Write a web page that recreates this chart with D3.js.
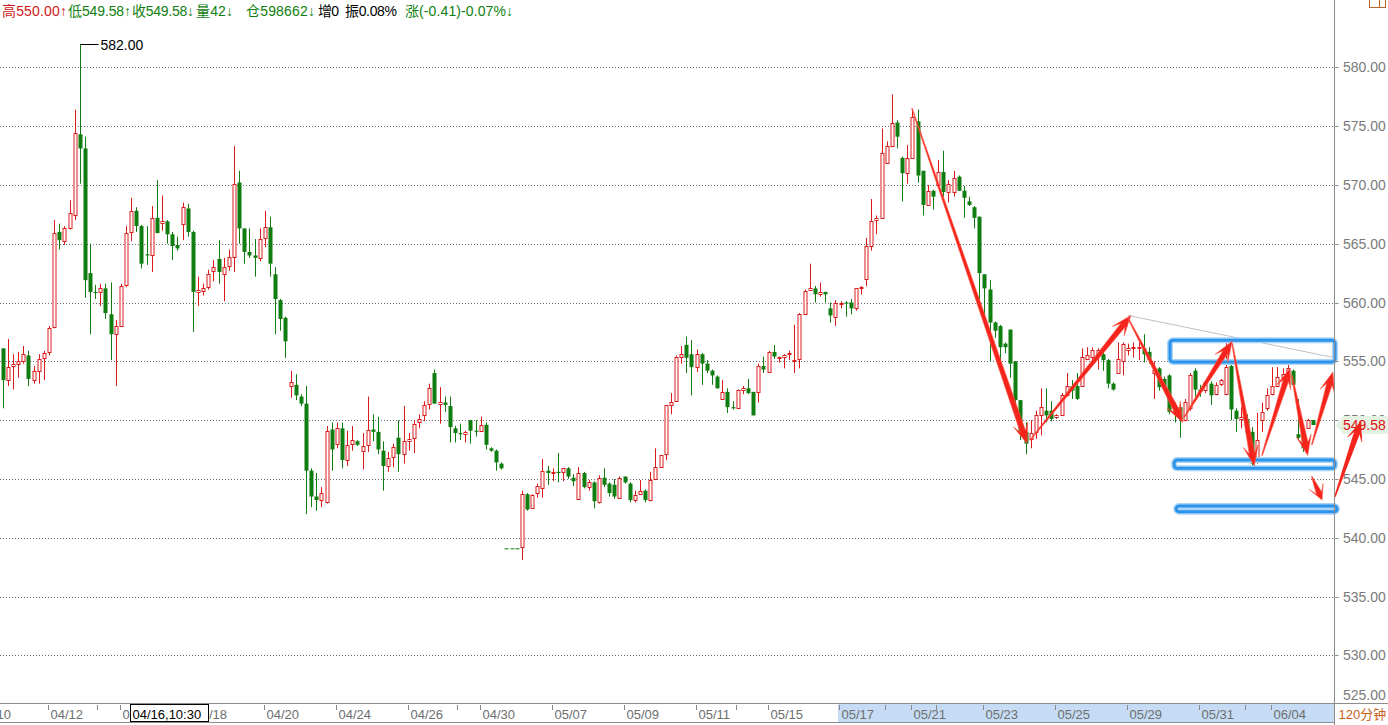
<!DOCTYPE html>
<html><head><meta charset="utf-8">
<script src="https://cdn.jsdelivr.net/npm/d3@7"></script>
<style>body{margin:0;background:#fff;overflow:hidden}svg{display:block}</style>
</head><body><svg id="c" width="1388" height="725"></svg>
<script>
// ---- data (120-minute candles) ----
const opens = [556.1,553.4,554.6,554.8,555.0,555.5,553.4,554.2,555.3,555.8,557.9,566.0,565.2,566.3,567.4,574.3,573.1,562.5,560.9,560.9,561.2,559.0,557.3,558.0,561.5,566.0,567.8,566.5,564.1,564.0,567.2,566.8,566.9,565.8,564.9,566.7,568.0,566.0,560.9,561.0,561.3,562.7,563.7,562.4,563.1,563.9,570.2,566.3,564.3,564.0,563.8,565.5,566.4,562.4,560.2,558.7,552.9,553.0,552.0,551.4,545.7,543.5,543.2,543.0,549.2,548.0,549.3,546.6,548.0,548.2,547.4,547.9,549.2,549.0,547.4,546.1,546.9,548.5,547.1,548.2,548.5,549.8,550.4,551.4,554.0,551.4,551.5,551.2,549.3,548.9,548.8,550.0,549.1,549.1,549.6,547.6,547.4,546.3,539.1,539.1,539.1,539.2,543.7,542.5,543.8,544.2,545.7,545.5,545.6,545.6,545.9,545.1,543.3,545.5,544.3,544.7,543.0,545.1,544.6,544.5,543.4,545.2,544.6,543.2,543.7,544.0,543.2,545.0,546.0,547.1,551.3,551.6,555.4,556.4,555.6,554.5,555.6,554.8,554.2,553.7,551.8,552.4,551.1,551.0,552.6,552.7,552.4,552.4,554.6,554.1,555.8,555.3,555.4,555.6,555.0,555.2,559.0,561.1,561.2,560.7,560.9,559.5,558.8,559.9,560.0,560.0,559.5,561.2,562.0,564.8,567.0,567.2,571.9,573.3,575.3,572.3,571.0,572.3,575.4,571.2,568.3,569.5,570.0,571.1,569.4,569.4,570.7,569.5,568.6,568.1,567.3,562.4,561.1,558.3,558.0,556.5,557.7,555.0,551.7,549.0,548.4,549.0,550.4,550.8,550.8,550.3,550.4,552.1,552.9,552.9,552.9,555.2,555.4,555.5,555.6,555.1,553.1,554.0,555.0,556.0,556.1,556.1,556.1,555.8,554.0,554.4,553.5,553.8,551.1,551.1,550.0,551.0,554.2,552.6,552.6,553.1,552.2,553.1,552.2,554.6,550.8,550.1,550.1,549.0,546.4,550.0,551.0,552.2,552.9,553.7,553.7,554.2,548.8,548.8,549.3,550.0];
const highs = [556.1,556.9,555.6,555.8,556.3,555.9,554.6,555.6,555.9,558.0,567.0,566.7,566.5,568.7,576.4,582.0,574.1,565.0,561.5,561.6,561.6,561.7,558.5,561.6,566.5,568.9,568.1,566.6,566.5,568.2,570.4,569.1,567.0,566.0,565.6,568.5,568.4,566.1,562.2,561.6,562.8,563.6,565.3,563.8,564.5,573.3,571.2,566.3,566.3,565.4,566.3,567.8,567.3,563.0,560.3,558.8,554.2,553.9,552.2,552.9,545.9,545.5,544.3,549.5,549.8,549.8,549.8,549.1,549.5,548.3,548.9,552.0,550.5,550.3,548.2,547.3,548.0,550.0,551.2,548.9,550.0,550.5,551.6,553.1,554.3,552.8,552.0,552.0,549.5,549.7,549.1,550.0,550.0,550.3,549.8,547.7,547.5,546.4,539.1,539.1,539.1,544.0,543.8,543.7,544.6,546.7,546.1,545.9,547.2,545.9,546.0,545.4,546.0,545.6,544.9,544.8,545.3,545.9,544.7,545.0,545.2,545.2,544.7,544.0,544.9,544.1,545.6,547.6,547.0,551.3,552.3,555.5,556.3,557.1,556.8,556.0,555.7,555.1,554.3,553.8,553.4,552.7,551.6,552.6,552.9,553.5,552.4,554.8,555.4,555.9,556.4,555.4,555.6,555.9,558.1,559.1,561.1,563.3,561.4,561.7,560.9,560.0,560.2,560.1,560.1,560.3,561.2,561.4,565.5,568.8,567.4,574.8,573.7,577.7,575.5,572.4,573.4,576.4,576.4,571.2,570.0,569.6,572.1,572.9,570.4,571.2,570.8,569.9,569.0,568.2,567.3,562.4,561.9,558.4,558.1,556.6,557.7,555.0,551.7,549.8,550.0,550.8,552.7,552.7,551.6,550.5,552.3,554.0,553.4,554.0,556.1,556.2,556.2,556.1,555.8,555.2,553.2,556.6,556.6,556.5,556.6,556.6,557.3,556.2,555.0,554.5,553.7,553.9,551.5,551.4,551.8,554.0,554.4,553.0,553.4,553.3,553.2,553.5,556.9,554.7,551.0,551.1,550.5,549.4,550.6,551.5,552.7,554.5,554.5,554.4,554.7,554.3,551.8,549.0,550.1,550.0];
const lows = [551.0,552.9,552.6,553.6,554.8,552.9,553.1,553.1,553.4,555.5,557.8,564.5,564.9,566.2,567.0,570.1,560.4,557.3,560.3,559.7,558.6,555.1,552.9,558.0,561.3,565.2,566.0,562.9,563.2,562.6,565.9,566.1,565.0,563.6,564.4,565.3,565.6,557.5,559.7,560.6,561.1,561.8,561.6,560.1,562.7,562.6,565.0,563.3,563.8,562.2,563.5,564.7,562.2,557.3,557.6,555.3,551.9,551.7,551.2,542.0,542.6,542.3,542.6,542.9,545.7,547.6,545.9,546.1,547.4,547.8,545.8,547.3,548.2,547.1,544.0,545.6,546.0,545.6,546.3,547.4,547.2,549.3,549.9,550.9,551.4,549.7,550.7,548.1,548.1,548.3,548.1,548.0,548.6,549.1,547.5,547.3,545.7,545.8,539.1,539.1,539.1,538.1,542.3,542.5,543.4,543.4,544.5,544.8,544.7,544.8,545.0,544.4,543.2,544.2,544.0,542.5,542.9,544.3,543.5,543.3,543.3,544.6,543.0,543.0,543.7,543.0,543.1,544.9,546.0,546.6,550.5,551.6,554.8,554.0,552.1,554.1,553.0,554.0,553.0,552.7,551.8,550.6,550.9,551.0,552.2,552.2,550.4,551.5,554.0,554.0,555.2,554.9,554.4,555.1,554.0,554.4,559.0,561.0,560.0,560.5,560.0,558.3,558.0,559.5,558.8,559.0,559.3,560.7,561.4,564.4,565.8,567.2,571.9,573.2,573.1,568.6,570.1,572.3,570.2,567.4,568.3,567.9,570.0,569.0,568.5,569.0,569.5,567.2,568.2,566.3,560.2,558.5,555.0,557.0,554.4,555.7,553.6,550.7,548.3,547.1,547.6,548.4,548.7,549.8,549.9,550.1,550.4,552.0,551.8,551.7,552.9,555.1,555.1,554.3,554.2,552.7,552.5,554.0,553.8,555.5,555.3,555.1,554.9,554.8,551.8,552.5,552.5,550.5,549.8,548.5,549.9,550.8,552.0,552.0,552.3,551.3,552.1,552.9,552.1,550.0,549.0,549.3,548.4,546.0,546.3,549.0,550.8,552.1,552.8,553.4,553.6,552.9,548.3,547.3,549.3,549.58];
const closes = [553.4,554.5,554.8,555.0,555.6,553.5,554.2,555.2,555.7,557.8,565.9,565.3,566.3,567.6,574.4,573.1,561.9,560.9,560.8,561.2,559.1,557.3,558.0,561.4,565.9,567.8,566.5,563.3,564.0,567.2,565.9,566.9,565.8,564.8,564.6,568.1,566.0,560.9,561.1,561.2,562.4,563.0,562.6,563.0,563.9,570.1,566.3,564.3,564.0,563.8,565.4,566.4,563.3,560.3,558.6,556.7,553.2,552.1,551.4,545.7,543.5,543.2,543.8,549.1,547.5,549.3,546.6,547.9,548.3,547.9,547.8,549.2,549.0,547.5,546.1,546.8,547.7,547.1,548.2,548.4,549.7,550.1,551.3,552.7,551.4,551.5,551.3,549.4,548.9,548.8,549.0,549.1,549.0,549.6,547.9,547.4,546.4,545.9,539.1,539.1,539.1,543.7,542.4,543.6,544.4,545.7,545.5,545.6,545.5,545.9,545.2,544.8,545.5,544.3,544.7,543.1,545.1,544.5,543.8,543.5,545.1,544.7,543.2,543.6,544.0,543.2,544.9,546.0,547.0,551.3,551.5,555.4,555.6,555.3,554.5,555.6,554.8,554.2,553.8,552.7,552.4,551.1,551.0,552.6,552.7,552.3,550.4,554.6,554.3,555.8,555.4,555.4,555.5,555.7,555.1,559.0,561.0,561.2,560.7,560.9,560.7,558.9,560.0,560.0,559.9,559.5,561.2,561.3,564.8,566.9,567.2,572.7,573.3,575.3,574.1,571.0,572.3,575.8,570.8,568.3,569.5,569.0,571.1,569.4,570.1,570.6,569.5,568.9,568.3,567.2,562.5,561.2,558.3,557.6,556.2,556.2,554.8,551.7,549.0,548.0,548.9,550.4,551.1,550.4,550.1,550.4,552.1,552.9,552.5,551.8,555.4,555.5,556.0,556.0,555.1,553.1,552.6,555.2,556.5,556.1,556.2,556.2,555.6,555.1,554.3,552.8,552.7,550.7,550.5,550.1,551.5,553.8,552.6,552.4,553.2,552.1,553.0,553.4,554.5,550.9,550.1,550.3,548.9,546.3,548.3,550.7,552.1,552.9,553.7,553.9,554.4,553.0,548.5,547.6,550.0,549.58];

const priceTicks = [525,530,535,540,545,550,555,560,565,570,575,580];
const dateLabels = ["04/10","04/12","04/16","04/18","04/20","04/24","04/26","04/30","05/07","05/09","05/11","05/15","05/17","05/21","05/23","05/25","05/29","05/31","06/04"];
const dateIdx = [-5,9,23,37,51,65,79,93,107,121,135,149,163,177,191,205,219,233,247];
const minorTickIdx = [18.4,88.4,142.6,171.7,181.6,241.7];

// header quote items
const headerItems = ["高550.00↑","低549.58↑","收549.58↓","量42↓","仓598662↓","增0","振0.08%","涨(-0.41)-0.07%↓"];
const headerColors = ["#d01818","#108010","#108010","#108010","#108010","#000","#000","#108010"];

// annotation (hand drawn) in data space: [i0, p0, i1, p1]
const arrows = [[176.9,576.5,199.3,548.0],[199.9,548.3,219.5,558.9],[218.9,558.7,229.6,549.8],[229.8,550.2,239.2,556.7],[239.2,556.5,243.5,546.1],[245.0,547.0,250.4,554.4],[250.8,553.8,253.9,547.0],[254.7,547.9,258.8,554.1],[254.7,545.2,256.7,543.2],[259.2,543.5,264.3,549.96]];
const grayLines = [[218.9,558.9,259.2,555.3]];
const boxes = [[227.1,259.2,556.8,554.95],[227.9,259.2,546.6,545.9],[228.3,259.6,542.7,542.2]];
const lastPrice = 549.58;
const cursorLabel = "04/16,10:30";
const periodLabel = "120分钟";

// ---- drawing ----
const svg = d3.select("#c");
const W = 1388, H = 725, axisX = 1334.5, axisTop = 703.5;
const x = d3.scaleLinear().domain([0,255]).range([2.7, 2.7+255*5.14]);
const y = d3.scaleLinear().domain([525,580]).range([714.1,67.3]);
const FONT = "'Liberation Sans', Arial, 'Noto Sans CJK SC', sans-serif";
const RED = "#dc1c1c", GREEN = "#0f7d0f";

svg.append("defs").append("clipPath").attr("id","plotclip").append("rect").attr("x",0).attr("y",0).attr("width",axisX).attr("height",axisTop);

// gridlines
svg.append("g").selectAll("line").data(priceTicks.filter(p=>y(p)<axisTop)).join("line")
  .attr("x1",0).attr("x2",axisX).attr("y1",p=>Math.round(y(p))+0.5).attr("y2",p=>Math.round(y(p))+0.5)
  .attr("stroke","#707070").attr("stroke-dasharray","1,2").attr("stroke-width",1);

// candles
const data = opens.map((o,i)=>({i,o,h:highs[i],l:lows[i],c:closes[i]}));
const cg = svg.append("g").attr("clip-path","url(#plotclip)");
data.forEach(d=>{
  const cx = Math.round(x(d.i));
  const up = d.c > d.o;
  const col = up ? RED : GREEN;
  const yt = y(Math.max(d.o,d.c)), yb = y(Math.min(d.o,d.c));
  cg.append("line").attr("x1",cx+0.5).attr("x2",cx+0.5).attr("y1",y(d.h)).attr("y2",y(d.l)).attr("stroke",col).attr("stroke-width",1);
  if (up) {
    cg.append("rect").attr("x",cx-1).attr("y",Math.round(yt)+0.5).attr("width",3).attr("height",Math.max(1,Math.round(yb)-Math.round(yt)))
      .attr("fill","#fff").attr("stroke",col).attr("stroke-width",1);
  } else {
    cg.append("rect").attr("x",cx-1.5).attr("y",yt).attr("width",4).attr("height",Math.max(1,yb-yt)).attr("fill",col);
  }
});

// max marker
const maxI = d3.maxIndex(highs);
const mx = Math.round(x(maxI))+0.5, my = Math.round(y(highs[maxI]))+0.5;
svg.append("line").attr("x1",mx).attr("x2",mx+18).attr("y1",my).attr("y2",my).attr("stroke","#000");
svg.append("text").attr("x",mx+20).attr("y",my+5).attr("font-family",FONT).attr("font-size",14).attr("fill","#000").text(highs[maxI].toFixed(2));

// annotations
const ag = svg.append("g");
grayLines.forEach(g=>{
  ag.append("line").attr("x1",x(g[0])).attr("y1",y(g[1])).attr("x2",x(g[2])).attr("y2",y(g[3])).attr("stroke","#c0c0c0").attr("stroke-width",1);
});
boxes.forEach(b=>{
  const x0=x(b[0]), x1=x(b[1]), y0=y(b[2]), y1=y(b[3]);
  ag.append("rect").attr("x",x0).attr("y",y0).attr("width",x1-x0).attr("height",y1-y0).attr("rx",3)
    .attr("fill","none").attr("stroke","#a9d3f7").attr("stroke-width",6);
  ag.append("rect").attr("x",x0).attr("y",y0).attr("width",x1-x0).attr("height",y1-y0).attr("rx",3)
    .attr("fill","none").attr("stroke","#2b93ea").attr("stroke-width",3);
});
function arrowPath(x0,y0,x1,y1){
  const dx=x1-x0, dy=y1-y0, L=Math.hypot(dx,dy), ux=dx/L, uy=dy/L, nx=-uy, ny=ux;
  const hl=Math.min(18,L*0.5), hw=7.5, sw=2.8, tw=0.4;
  const P=(t,w)=>[x0+ux*t+nx*w, y0+uy*t+ny*w];
  const pts=[P(0,tw),P(L-hl+5,sw),P(L-hl-2,hw),P(L,0),P(L-hl-2,-hw),P(L-hl+5,-sw),P(0,-tw)];
  return "M"+pts.map(p=>p[0].toFixed(1)+","+p[1].toFixed(1)).join("L")+"Z";
}
arrows.forEach(a=>{
  ag.append("path").attr("d",arrowPath(x(a[0]),y(a[1]),x(a[2]),y(a[3]))).attr("fill","#f4241c").attr("stroke","#ff5a4a").attr("stroke-width",0.6);
});

// right axis
svg.append("line").attr("x1",axisX).attr("x2",axisX).attr("y1",0).attr("y2",H).attr("stroke","#8c8c8c");
const rg = svg.append("g");
priceTicks.forEach(p=>{
  const yy = Math.min(y(p), 695);
  if (y(p) < axisTop) rg.append("line").attr("x1",axisX).attr("x2",axisX+4).attr("y1",Math.round(y(p))+0.5).attr("y2",Math.round(y(p))+0.5).attr("stroke","#8c8c8c");
  rg.append("text").attr("x",1343).attr("y",yy+5).attr("font-family",FONT).attr("font-size",14).attr("fill","#7a7a7a").text(p.toFixed(2));
});
// last price tag
const ly = y(lastPrice);
svg.append("path").attr("d",`M${axisX+1},${ly}L${axisX+9},${ly-9}L${W},${ly-9}L${W},${ly+9}L${axisX+9},${ly+9}Z`).attr("fill","#e4f2e4");
svg.append("text").attr("x",1343).attr("y",ly+5).attr("font-family",FONT).attr("font-size",14).attr("fill","#e01010").text(lastPrice.toFixed(2));
const la = arrows[arrows.length-1];
svg.append("path").attr("d",arrowPath(x(la[0]),y(la[1]),x(la[2]),y(la[3]))).attr("fill","#f4241c");

// bottom axis
const bg = svg.append("g");
bg.append("rect").attr("x",0).attr("y",axisTop).attr("width",axisX).attr("height",H-axisTop).attr("fill","#fff");
const hlStart = x(162.5);
bg.append("rect").attr("x",hlStart).attr("y",axisTop+0.5).attr("width",axisX-hlStart).attr("height",18.5).attr("fill","#c5dcf4");
bg.append("line").attr("x1",0).attr("x2",axisX).attr("y1",axisTop).attr("y2",axisTop).attr("stroke","#8c8c8c");
bg.append("line").attr("x1",0).attr("x2",axisX).attr("y1",722.5).attr("y2",722.5).attr("stroke","#8c8c8c");
dateLabels.forEach((lab,k)=>{
  const tx = Math.round(x(dateIdx[k]-0.2))+0.5;
  bg.append("line").attr("x1",tx).attr("x2",tx).attr("y1",705).attr("y2",710).attr("stroke","#888");
  bg.append("text").attr("x",tx+2).attr("y",719).attr("font-family",FONT).attr("font-size",13).attr("fill","#6e6e6e").text(lab);
});
minorTickIdx.forEach(m=>{
  const tx = Math.round(x(m))+0.5;
  bg.append("line").attr("x1",tx).attr("x2",tx).attr("y1",705).attr("y2",710).attr("stroke","#888");
});
// cursor date box
const cbx = Math.round(x(24.8))+0.5;
bg.append("rect").attr("x",cbx).attr("y",704.5).attr("width",78).attr("height",17).attr("fill","#fff").attr("stroke","#000");
bg.append("text").attr("x",cbx+2).attr("y",719).attr("font-family",FONT).attr("font-size",13).attr("fill","#000").text(cursorLabel);
// period label
svg.append("rect").attr("x",axisX+0.5).attr("y",axisTop).attr("width",W-axisX).attr("height",H-axisTop).attr("fill","#fff");
svg.append("line").attr("x1",axisX).attr("x2",W).attr("y1",axisTop).attr("y2",axisTop).attr("stroke","#8c8c8c");
svg.append("line").attr("x1",axisX).attr("x2",axisX).attr("y1",axisTop).attr("y2",H).attr("stroke","#8c8c8c");
svg.append("text").attr("x",axisX+4).attr("y",719).attr("font-family",FONT).attr("font-size",13).attr("fill","#c8601a").text(periodLabel);

// top-right icon
svg.append("rect").attr("x",1369.5).attr("y",-0.5).attr("width",16).attr("height",8).attr("fill","none").attr("stroke","#b8652a");
svg.append("line").attr("x1",1379.5).attr("x2",1379.5).attr("y1",0).attr("y2",8).attr("stroke","#b8652a");

// header: each quote item placed in its own slot
const headerX = [2,68,132,196,246,318,345,405];
const headerW = [65,63,62,37,69,21,52,108];
svg.append("g").selectAll("text").data(headerItems).join("text")
  .attr("x",(d,k)=>headerX[k]).attr("y",16).attr("font-family",FONT).attr("font-size",14)
  .attr("textLength",(d,k)=>headerW[k]).attr("lengthAdjust","spacing")
  .attr("fill",(d,k)=>headerColors[k]).text(d=>d);
</script></body></html>
